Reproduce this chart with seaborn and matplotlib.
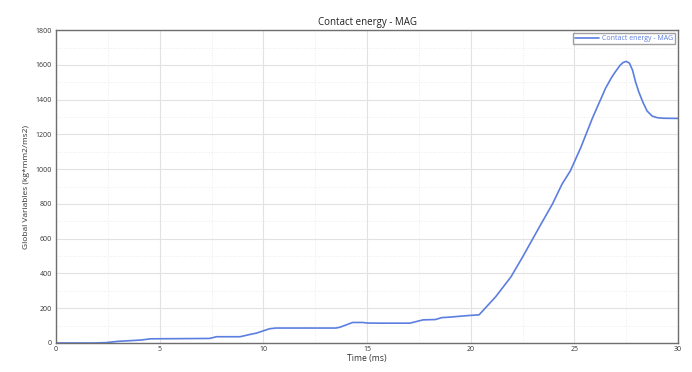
import matplotlib
matplotlib.use("Agg")
import matplotlib.pyplot as plt
from matplotlib.ticker import MultipleLocator
import seaborn as sns
import pandas as pd


time_ms = [
    0.0, 1.8, 2.4, 2.95, 4.1, 4.55, 7.4, 7.74, 8.87, 9.35, 9.67, 10.3, 10.6,
    13.5, 13.7, 14.3, 14.8, 15.0, 15.6, 17.06, 17.7, 18.3, 18.6, 18.9, 19.9,
    20.4, 21.0, 21.2, 21.94, 22.5, 23.3, 23.94, 24.4, 24.8, 25.3, 25.87,
    26.5, 26.8, 27.0, 27.2, 27.35, 27.5, 27.65, 27.8, 27.95, 28.1, 28.3,
    28.5, 28.75, 29.0, 29.3, 30.0,
]
energy = [
    0, 0, 2, 9, 17, 24, 26, 36, 36, 49, 57, 82, 86,
    86, 91, 118, 118, 115, 114, 114, 133, 135, 146, 148, 158,
    162, 240, 266, 381, 495, 666, 800, 914, 990, 1123, 1295,
    1466, 1530, 1565, 1598, 1614, 1620, 1610, 1570, 1500, 1445, 1385,
    1335, 1305, 1296, 1293, 1292,
]
series_name = "Contact energy - MAG"

df = pd.DataFrame({"Time (ms)": time_ms, "energy": energy})

sns.set_style("white")
plt.rcParams["font.family"] = ["Open Sans", "DejaVu Sans"]

fig = plt.figure(figsize=(6.92, 3.72), dpi=100)
ax = fig.add_axes([0.081, 0.078, 0.899, 0.841])

sns.lineplot(
    data=df,
    x="Time (ms)",
    y="energy",
    color="#5b7ee0",
    linewidth=1.2,
    label=series_name,
    ax=ax,
)

ax.set_xlim(0, 30)
ax.set_ylim(0, 1800)
ax.xaxis.set_major_locator(MultipleLocator(5))
ax.xaxis.set_minor_locator(MultipleLocator(2.5))
ax.yaxis.set_major_locator(MultipleLocator(200))
ax.yaxis.set_minor_locator(MultipleLocator(100))

ax.grid(which="major", color="#e2e2e2", linewidth=0.8)
ax.grid(which="minor", color="#e6e6e6", linewidth=0.6, linestyle=(0, (1, 2)))
ax.set_axisbelow(True)

for side in ["top", "right", "left", "bottom"]:
    ax.spines[side].set_color("#6e6e6e")
    ax.spines[side].set_linewidth(1.0)

ax.tick_params(axis="both", which="major", labelsize=5, colors="#333333",
               length=2, width=0.6, pad=1)
ax.tick_params(axis="both", which="minor", length=0)
ax.tick_params(axis="x", length=0, pad=2)

ax.set_title("Contact energy - MAG", fontsize=7, color="#222222", pad=4)
ax.set_xlabel("Time (ms)", fontsize=6.2, color="#333333", labelpad=1)
ax.set_ylabel("Global Variables (kg*mm2/ms2)", fontsize=6, color="#333333",
              labelpad=4)

leg = ax.legend(loc="upper right", fontsize=5, frameon=True, fancybox=False,
                borderpad=0.3, handlelength=3.4, handletextpad=0.5,
                borderaxespad=0.4)
leg.get_frame().set_edgecolor("#888888")
leg.get_frame().set_linewidth(1.0)
for text in leg.get_texts():
    text.set_color("#5b7ee0")

fig.savefig("out.png", dpi=100)
